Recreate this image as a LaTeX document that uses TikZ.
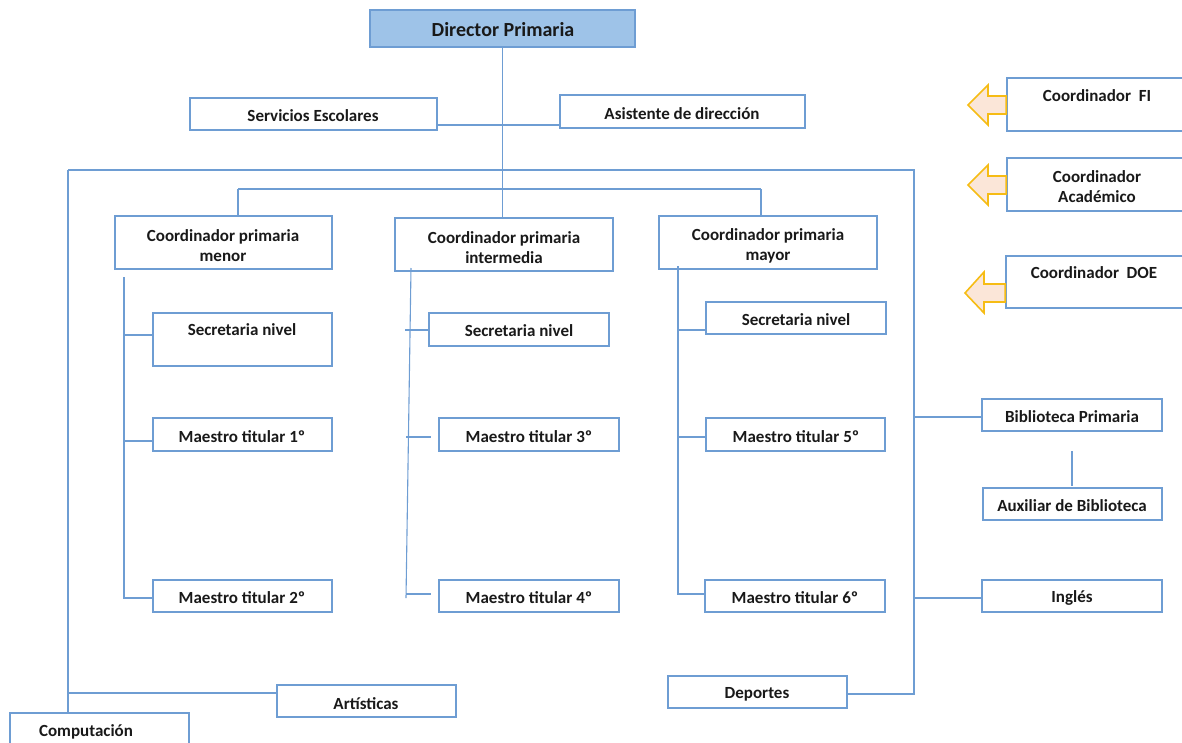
\documentclass[tikz,border=0pt]{standalone}
\usepackage{fontspec}
\setmainfont{Carlito}
\usetikzlibrary{fit}
\definecolor{boxc}{HTML}{6E9DD3}
\definecolor{dirfill}{HTML}{9EC3E8}
\definecolor{arrowline}{HTML}{F6BC14}
\definecolor{arrowfill}{HTML}{FBE6D8}
\tikzset{
  box/.style={draw=boxc, line width=1.5pt, rectangle, inner sep=0pt},
  dirbox/.style={box, fill=dirfill},
  lbl/.style={font=\bfseries\fontsize{17}{20}\selectfont, align=center, inner sep=0pt, text=black!90},
  dirlbl/.style={lbl, font=\bfseries\fontsize{20}{23}\selectfont},
  conn/.style={draw=boxc, line width=1.5pt},
  sidearrow/.style={draw=arrowline, fill=arrowfill, line width=1.6pt, line join=miter}
}
\begin{document}
\begin{tikzpicture}[x=1pt,y=-1pt]
\useasboundingbox (0,0) rectangle (1182,742);
\clip (0,0) rectangle (1182,742);
% boxes
\node[dirbox, fit={(370,10) (635,47)}] (dir) {};
\node[box, fit={(190,98) (437,130)}] (serv) {};
\node[box, fit={(560,95) (805,128)}] (asis) {};
\node[box, fit={(1007,78) (1200,131)}] (cfi) {};
\node[box, fit={(1007,158) (1200,211)}] (cac) {};
\node[box, fit={(1006,256) (1200,308)}] (cdoe) {};
\node[box, fit={(115,216) (332,269)}] (cmen) {};
\node[box, fit={(395,218) (613,271)}] (cint) {};
\node[box, fit={(659,216) (877,269)}] (cmay) {};
\node[box, fit={(153,313) (332,366)}] (sec1) {};
\node[box, fit={(429,313) (609,346)}] (sec2) {};
\node[box, fit={(706,302) (886,334)}] (sec3) {};
\node[box, fit={(153,418) (332,451)}] (m1) {};
\node[box, fit={(439,418) (619,451)}] (m3) {};
\node[box, fit={(706,418) (885,451)}] (m5) {};
\node[box, fit={(153,580) (332,612)}] (m2) {};
\node[box, fit={(439,580) (619,612)}] (m4) {};
\node[box, fit={(705,580) (885,612)}] (m6) {};
\node[box, fit={(982,399) (1162,431)}] (bib) {};
\node[box, fit={(983,488) (1162,520)}] (aux) {};
\node[box, fit={(982,580) (1162,612)}] (ing) {};
\node[box, fit={(668,676) (847,708)}] (dep) {};
\node[box, fit={(277,685) (456,717)}] (art) {};
\node[box, fit={(10,713) (189,760)}] (comp) {};
% labels
\node[dirlbl] at (503,30) {Director Primaria};
\node[lbl] at (313,116) {Servicios Escolares};
\node[lbl] at (682,114) {Asistente de dirección};
\node[lbl] at (1097,96) {Coordinador\ \ FI};
\node[lbl] at (1097,187) {Coordinador\\Académico};
\node[lbl] at (1094,273) {Coordinador\ \ DOE};
\node[lbl] at (223,246) {Coordinador primaria\\menor};
\node[lbl] at (504,248) {Coordinador primaria\\intermedia};
\node[lbl] at (768,246) {Coordinador primaria\\mayor};
\node[lbl] at (242,330) {Secretaria nivel};
\node[lbl] at (519,331) {Secretaria nivel};
\node[lbl] at (796,320) {Secretaria nivel};
\node[lbl] at (242,437) {Maestro titular 1º};
\node[lbl] at (529,437) {Maestro titular 3º};
\node[lbl] at (796,437) {Maestro titular 5º};
\node[lbl] at (242,598) {Maestro titular 2º};
\node[lbl] at (529,598) {Maestro titular 4º};
\node[lbl] at (795,598) {Maestro titular 6º};
\node[lbl] at (1072,417) {Biblioteca Primaria};
\node[lbl] at (1072,506) {Auxiliar de Biblioteca};
\node[lbl] at (1072,598) {Inglés};
\node[lbl] at (757,694) {Deportes};
\node[lbl] at (366,704) {Artísticas};
\node[lbl] at (86,732) {Computación};
% side arrows
\draw[sidearrow] (968,105) -- (988,85) -- (988,96) -- (cfi.west |- 0,96) -- (cfi.west |- 0,114) -- (988,114) -- (988,125) -- cycle;
\draw[sidearrow] (968,185) -- (988,165) -- (988,176) -- (cac.west |- 0,176) -- (cac.west |- 0,194) -- (988,194) -- (988,205) -- cycle;
\draw[sidearrow] (965,293) -- (984,272) -- (984,284) -- (cdoe.west |- 0,284) -- (cdoe.west |- 0,302) -- (984,302) -- (984,313) -- cycle;
% coordinates
\coordinate (topL) at (68,170);
\coordinate (topR) at (914,170);
\coordinate (h2L) at (238,189);
\coordinate (h2R) at (761,189);
\coordinate (s1t) at (124,277);
\coordinate (s1b) at (124,598);
\coordinate (s2t) at (411,268);
\coordinate (s2b) at (406,598);
\coordinate (s3t) at (678,266);
\coordinate (s3b) at (678,594);
\coordinate (rB) at (914,694);
\coordinate (auxt) at (1072,451);
% connectors
\draw[conn, line width=1.2pt] (dir.south) -- (dir.south |- cint.north);
\draw[conn] (serv.east |- 0,125) -- (asis.west |- 0,125);
\draw[conn] (topL) -- (topR) -- (rB) -- (dep.east |- rB);
\draw[conn] (topL) -- (comp.north -| topL);
\draw[conn] (68,693) -- (art.west |- 0,693);
\draw[conn] (h2L) -- (h2R);
\draw[conn] (h2L) -- (cmen.north -| h2L);
\draw[conn] (h2R) -- (cmay.north -| h2R);
% menor column
\draw[conn] (s1t) -- (s1b) -- (m2.west |- s1b);
\draw[conn] (124,335) -- (sec1.west |- 0,335);
\draw[conn] (124,441) -- (m1.west |- 0,441);
% intermedia column
\draw[conn, line width=1.1pt] (s2t) -- (s2b);
\draw[conn, line width=1.1pt] (405,330) -- (sec2.west |- 0,330);
\draw[conn, line width=1.1pt] (406,437) -- (431,437);
\draw[conn, line width=1.1pt] (406,594) -- (431,594);
% mayor column
\draw[conn] (s3t) -- (s3b) -- (m6.west |- s3b);
\draw[conn] (678,330) -- (sec3.west |- 0,330);
\draw[conn] (678,437) -- (m5.west |- 0,437);
% right column
\draw[conn] (914,417) -- (bib.west |- 0,417);
\draw[conn] (914,598) -- (ing.west |- 0,598);
\draw[conn] (auxt) -- (1072,486);
\end{tikzpicture}
\end{document}
